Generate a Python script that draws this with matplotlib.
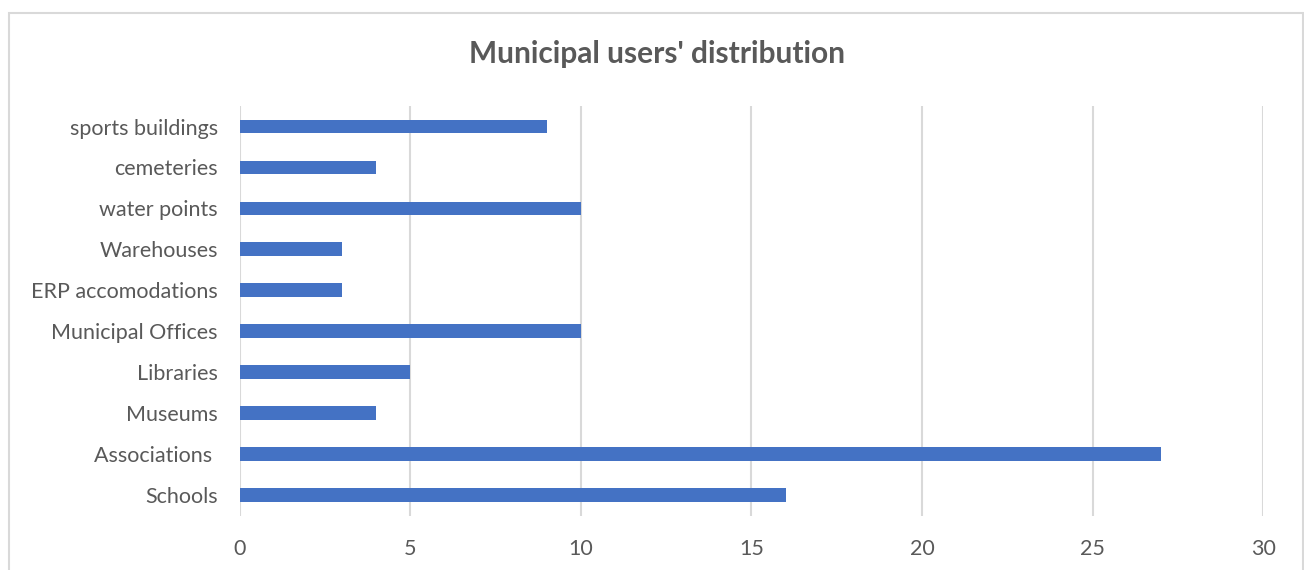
import matplotlib.pyplot as plt
from matplotlib.patches import Rectangle

# category labels bottom to top, as in the chart
categories = ['Schools', 'Associations ', 'Museums', 'Libraries', 'Municipal Offices',
              'ERP accomodations', 'Warehouses', 'water points', 'cemeteries', 'sports buildings']
users = [16, 27, 4, 5, 10, 3, 3, 10, 4, 9]
x_ticks = [0, 5, 10, 15, 20, 25, 30]

plt.rcParams['font.family'] = ['Lato', 'DejaVu Sans']
text_color = '#595959'

fig = plt.figure(figsize=(13.04, 5.70), dpi=100)
ax = fig.add_axes([0.184, 0.095, 0.7846, 0.719])

ax.barh(range(len(categories)), users, height=0.34, color='#4472C4')

ax.set_xlim(0, 30)
ax.set_ylim(-0.5, len(categories) - 0.5)
ax.set_xticks(x_ticks)
ax.set_yticks(range(len(categories)))
ax.set_yticklabels(categories)
ax.xaxis.grid(True, color='#d9d9d9', linewidth=1.5)
ax.set_axisbelow(True)
ax.tick_params(length=0, labelsize=15.5, colors=text_color)
ax.tick_params(axis='x', pad=17)
ax.tick_params(axis='y', pad=16)
for s in ax.spines.values():
    s.set_visible(False)

fig.text(0.504, 0.905, "Municipal users' distribution", ha='center', va='center',
         fontsize=21.5, fontweight='bold', color=text_color)

# light chart-area border like the spreadsheet export
fig.patches.append(Rectangle((0.007, -0.05), 0.992, 1.027, transform=fig.transFigure,
                             fill=False, edgecolor='#d9d9d9', linewidth=1.5, clip_on=False))

fig.savefig('out.png', dpi=100)
